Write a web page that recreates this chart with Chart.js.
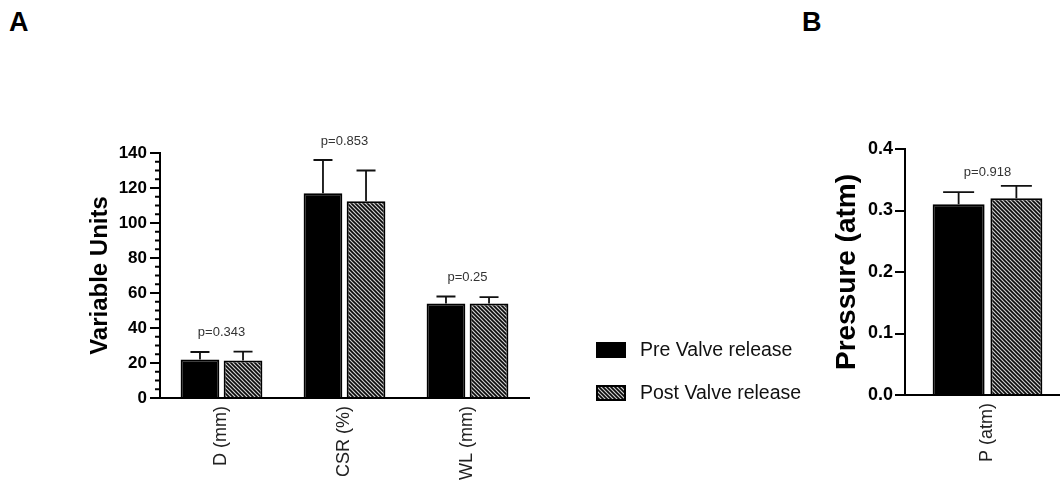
<!DOCTYPE html>
<html>
<head>
<meta charset="utf-8">
<script src="https://cdn.jsdelivr.net/npm/chart.js@4/dist/chart.umd.min.js"></script>
<style>
  html, body { margin: 0; padding: 0; background: #fff; overflow: hidden; }
  body { width: 1060px; height: 487px; position: relative; }
  canvas { position: absolute; top: 0; }
  #chartA { left: 0; }
  #chartB { left: 820px; }
  .panel { position: absolute; font: bold 27px "Liberation Sans", Arial, sans-serif; color: #000; line-height: 1; }
</style>
</head>
<body>
<div class="panel" style="left:9px;top:9px">A</div>
<div class="panel" style="left:802px;top:9px">B</div>
<canvas id="chartA" width="830" height="487"></canvas>
<canvas id="chartB" width="260" height="487"></canvas>
<script>
// Panel A: vessel dimensions
const categoriesA = ['D (mm)', 'CSR (%)', 'WL (mm)'];
const preA = [22, 117, 54];
const preSdA = [4.3, 19, 4];
const postA = [21.5, 112.5, 54];
const postSdA = [5, 17.5, 3.6];
const pLabelsA = ['p=0.343', 'p=0.853', 'p=0.25'];

// Panel B: pressure
const categoriesB = ['P (atm)'];
const preB = [0.31];
const preSdB = [0.02];
const postB = [0.32];
const postSdB = [0.02];
const pLabelsB = ['p=0.918'];

const seriesNames = ['Pre Valve release', 'Post Valve release'];
const FONT = "'Liberation Sans', Arial, Helvetica, sans-serif";

// diagonal hatch fill for the post-release bars
function makeHatch() {
  const size = 4;
  const c = document.createElement('canvas');
  c.width = size; c.height = size;
  const g = c.getContext('2d');
  g.fillStyle = '#cfcfcf';
  g.fillRect(0, 0, size, size);
  g.strokeStyle = '#0a0a0a';
  g.lineWidth = 1.6;
  g.beginPath();
  g.moveTo(-size, -size); g.lineTo(2 * size, 2 * size);
  g.moveTo(-size, 0); g.lineTo(size, 2 * size);
  g.moveTo(0, -size); g.lineTo(2 * size, size);
  g.stroke();
  return g.createPattern(c, 'repeat');
}

// error bars (upper whisker) plus p-value text above each group
function errorBarPlugin(capWidth, pOffset, pLabels) {
  return {
    id: 'errorBars',
    afterDatasetsDraw(chart) {
      const ctx = chart.ctx;
      const y = chart.scales.y;
      const tops = [];
      ctx.save();
      ctx.strokeStyle = '#111';
      ctx.lineWidth = 1.8;
      chart.data.datasets.forEach((ds, i) => {
        const meta = chart.getDatasetMeta(i);
        meta.data.forEach((bar, j) => {
          const top = y.getPixelForValue(ds.data[j] + ds.errors[j]);
          tops[j] = Math.min(tops[j] === undefined ? Infinity : tops[j], top);
          ctx.beginPath();
          ctx.moveTo(bar.x, bar.y);
          ctx.lineTo(bar.x, top);
          ctx.moveTo(bar.x - capWidth / 2, top);
          ctx.lineTo(bar.x + capWidth / 2, top);
          ctx.stroke();
        });
      });
      ctx.fillStyle = '#333';
      ctx.font = '13px ' + FONT;
      ctx.textAlign = 'center';
      ctx.textBaseline = 'middle';
      const x = chart.scales.x;
      pLabels.forEach((t, j) => {
        ctx.fillText(t, x.getPixelForValue(j), tops[j] - pOffset);
      });
      ctx.restore();
    }
  };
}

// short minor tick marks on the left axis
function minorTickPlugin(step, len) {
  return {
    id: 'minorTicks',
    afterDraw(chart) {
      const y = chart.scales.y;
      const ctx = chart.ctx;
      const left = chart.chartArea.left;
      ctx.save();
      ctx.strokeStyle = '#000';
      ctx.lineWidth = 2;
      for (let v = y.min; v <= y.max; v += step) {
        const py = y.getPixelForValue(v);
        ctx.beginPath();
        ctx.moveTo(left - len, py);
        ctx.lineTo(left, py);
        ctx.stroke();
      }
      ctx.restore();
    }
  };
}

// legend boxes drawn to the right of panel A
const legendPlugin = {
  id: 'sideLegend',
  afterDraw(chart) {
    const ctx = chart.ctx;
    ctx.save();
    chart.data.datasets.forEach((ds, i) => {
      const cy = 350 + i * 43;
      ctx.fillStyle = ds.backgroundColor;
      ctx.fillRect(596, cy - 8, 30, 16);
      ctx.strokeStyle = '#000';
      ctx.lineWidth = 2;
      ctx.strokeRect(597, cy - 7, 28, 14);
      ctx.fillStyle = '#111';
      ctx.font = '19.5px ' + FONT;
      ctx.textAlign = 'left';
      ctx.textBaseline = 'middle';
      ctx.fillText(ds.label, 640, cy + 1);
    });
    ctx.restore();
  }
};

const hatch = makeHatch();

function datasets(pre, preSd, post, postSd) {
  return [
    { label: seriesNames[0], data: pre, errors: preSd, backgroundColor: '#000', borderColor: '#000', borderWidth: 2 },
    { label: seriesNames[1], data: post, errors: postSd, backgroundColor: hatch, borderColor: '#000', borderWidth: 2 }
  ];
}

function baseOptions(o) {
  return {
    responsive: false,
    animation: false,
    devicePixelRatio: 1,
    layout: { padding: { left: 0, right: o.padRight, top: o.padTop, bottom: 0 } },
    plugins: { legend: { display: false }, tooltip: { enabled: false } },
    datasets: { bar: { categoryPercentage: 0.7, barPercentage: 0.9 } },
    scales: {
      x: {
        grid: { display: false, drawTicks: false },
        border: { display: true, color: '#000', width: 2 },
        ticks: { color: '#222', font: { family: FONT, size: 18 }, maxRotation: 90, minRotation: 90, padding: 8 },
        afterFit(s) { s.height = o.xHeight; }
      },
      y: {
        min: 0, max: o.max,
        grid: { drawOnChartArea: false, drawTicks: true, tickLength: 10, color: '#000', lineWidth: 2 },
        border: { display: true, color: '#000', width: 2 },
        ticks: { stepSize: o.step, color: '#000', padding: o.tickPad, font: { family: FONT, size: o.tickSize, weight: 'bold' },
                 callback: o.fmt },
        title: { display: true, text: o.title, color: '#000', font: { family: FONT, size: o.titleSize, weight: 'bold', lineHeight: 1.2 },
                 padding: { top: o.titlePad, bottom: 0 } },
        afterFit(s) { s.width = o.yWidth; }
      }
    }
  };
}

new Chart(document.getElementById('chartA'), {
  type: 'bar',
  data: { labels: categoriesA, datasets: datasets(preA, preSdA, postA, postSdA) },
  options: baseOptions({ padRight: 301, padTop: 153, xHeight: 89, max: 140, step: 20, tickPad: 3, tickSize: 17,
    fmt: v => String(v), title: 'Variable Units', titleSize: 24, titlePad: 86, yWidth: 160 }),
  plugins: [errorBarPlugin(19, 19, pLabelsA), minorTickPlugin(5, 5), legendPlugin]
});

new Chart(document.getElementById('chartB'), {
  type: 'bar',
  data: { labels: categoriesB, datasets: datasets(preB, preSdB, postB, postSdB) },
  options: baseOptions({ padRight: 10, padTop: 149, xHeight: 92, max: 0.4, step: 0.1, tickPad: 2, tickSize: 18,
    fmt: v => v.toFixed(1), title: 'Pressure (atm)', titleSize: 28, titlePad: 10, yWidth: 85 }),
  plugins: [errorBarPlugin(31, 13, pLabelsB)]
});
</script>
</body>
</html>
